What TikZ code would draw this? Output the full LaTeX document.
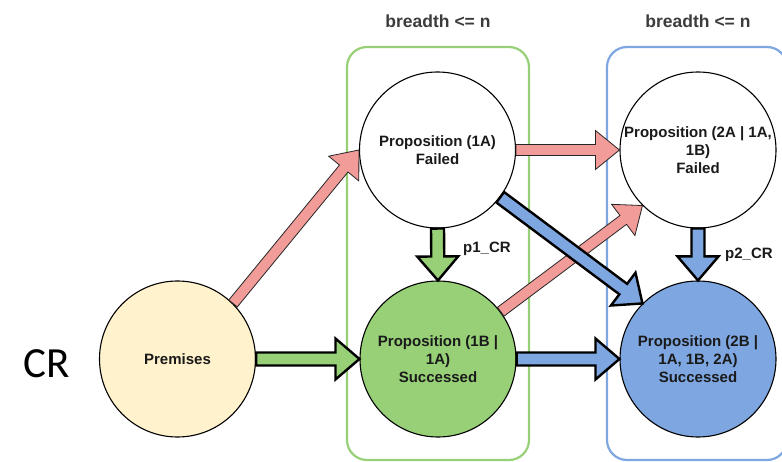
\documentclass[tikz,border=0pt]{standalone}
\usepackage{fontspec}
\setmainfont{Liberation Sans}
\newfontfamily\crfont{Carlito}
\usepackage{tikz}
\usetikzlibrary{calc,positioning}
\definecolor{CrYellow}{HTML}{FFF2CC}
\definecolor{CrGreen}{HTML}{97D077}
\definecolor{CrBlue}{HTML}{7EA6E0}
\definecolor{CrPink}{HTML}{F19C99}
\definecolor{CrText}{HTML}{1A1A1A}
\definecolor{CrGray}{HTML}{3C3C3C}

% block arrow: style, shaft half width, head half width, from, to
\newcommand{\fatarrow}[5]{%
  \coordinate (fa) at ($(#5)!24pt!(#4)$);
  \draw[#1] ($(#4)!#2!90:(#5)$) -- ($(fa)!#2!90:(#5)$) -- ($(fa)!#3!90:(#5)$) -- (#5)
    -- ($(fa)!#3!-90:(#5)$) -- ($(fa)!#2!-90:(#5)$) -- ($(#4)!#2!-90:(#5)$) -- cycle;}

\begin{document}
\begin{tikzpicture}[x=1pt,y=-1pt,
  prop/.style={circle,draw=black,line width=1.1pt,minimum size=156pt,inner sep=0pt,align=center,text=CrText,font=\bfseries\fontsize{15}{18}\selectfont},
  lane/.style={rounded corners=20pt,line width=2.2pt},
  lanehead/.style={text=CrGray,font=\bfseries\fontsize{17.5}{20}\selectfont},
  steplabel/.style={anchor=west,inner sep=0pt,text=CrText,font=\bfseries\fontsize{15}{18}\selectfont},
  redarrow/.style={fill=CrPink,draw=black!85,line width=.8pt},
  greenarrow/.style={fill=CrGreen,draw=black,line width=2.4pt},
  bluearrow/.style={fill=CrBlue,draw=black,line width=2.4pt}]
\useasboundingbox (0,0) rectangle (782,462);
% lanes
\draw[lane,CrGreen] (347,47) rectangle (529,460);
\draw[lane,CrBlue] (607,47) rectangle (787,460);
\node[lanehead] (head1) at (438,21) {breadth <= n};
\node[lanehead] (head2) at (698,21) {breadth <= n};
\node[text=black,font=\crfont\fontsize{43}{50}\selectfont] (cr) at (47,364) {CR};
% propositions
\node[prop,fill=CrYellow] (prem) at (177.5,359) {Premises};
\node[prop,fill=white] (p1A) at (437.5,150) {Proposition (1A)\\Failed};
\node[prop,fill=CrGreen] (p1B) at (438,359) {Proposition (1B |\\1A)\\Successed};
\node[prop,fill=white] (p2A) at (698,150) {Proposition (2A | 1A,\\1B)\\Failed};
\node[prop,fill=CrBlue] (p2B) at (698,359) {Proposition (2B |\\1A, 1B, 2A)\\Successed};
% arrows
\fatarrow{redarrow}{5.5pt}{19.5pt}{prem.45}{p1A.west}
\fatarrow{redarrow}{5.5pt}{19.5pt}{p1A.east}{p2A.west}
\fatarrow{redarrow}{5.5pt}{19.5pt}{p1B.37}{p2A.225}
\fatarrow{greenarrow}{6.5pt}{20.5pt}{prem.east}{p1B.west}
\fatarrow{greenarrow}{6.5pt}{20.5pt}{p1A.south}{p1B.north}
\fatarrow{bluearrow}{6.5pt}{20.5pt}{p1A.-37}{p2B.135}
\fatarrow{bluearrow}{6.5pt}{20.5pt}{p1B.east}{p2B.west}
\fatarrow{bluearrow}{6.5pt}{20.5pt}{p2A.south}{p2B.north}
\node[steplabel] (lab1) at (463,249) {p1\_CR};
\node[steplabel] (lab2) at (725,255) {p2\_CR};
\end{tikzpicture}
\end{document}
